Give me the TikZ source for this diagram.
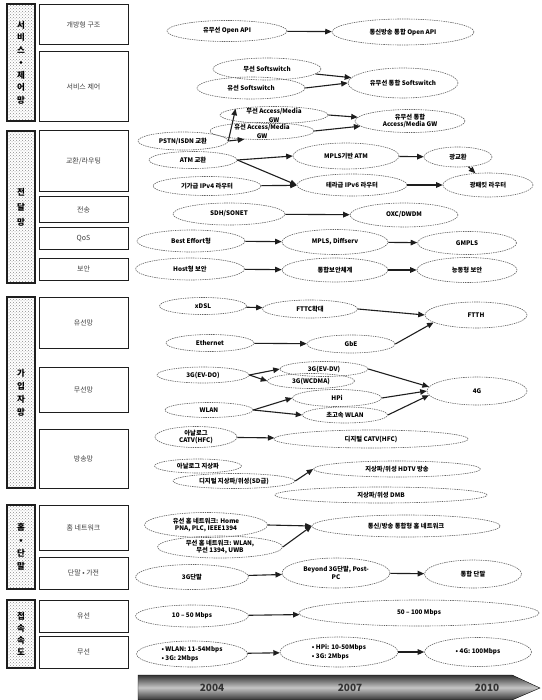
\documentclass[tikz,border=0pt]{standalone}
\usepackage{fontspec}
\setmainfont{Noto Sans CJK KR}
\usepackage{tikz}
\usetikzlibrary{shapes.geometric}
\usetikzlibrary{arrows.meta}
\usetikzlibrary{patterns}
\definecolor{kante}{RGB}{30,30,30}
\definecolor{raster}{RGB}{140,140,140}
\colorlet{kante-hell}{kante!70}
\colorlet{schrift}{black!75}

\begin{document}
\begin{tikzpicture}[x=1pt, y=-1pt,
    ell/.style={ellipse, draw=kante-hell, dash pattern=on 1.4pt off 0.9pt, line width=0.6pt, inner sep=0pt, align=center, font=\fontsize{6.3}{7.5}\selectfont\bfseries},
    oval/.style 2 args={ell, minimum width=#1, minimum height=#2},
    pf/.style={line width=1.1pt, kante, -{Triangle[length=6.5pt,width=5.5pt]}},
    kat/.style={draw=kante, line width=1.1pt, pattern=crosshatch dots, pattern color=raster, inner sep=0pt, align=center},
    feld/.style={draw=kante, line width=1pt, fill=white, minimum width=89, text=schrift, font=\fontsize{7}{8}\selectfont},
    jahr/.style={font=\fontsize{10}{10}\selectfont\bfseries, text=black!80}]

    \useasboundingbox (0,0) rectangle (541,700);

    % Kategorien links
    \node[kat, minimum width=28, minimum height=117, font=\fontsize{8.5}{12.5}\selectfont\bfseries] (k1) at (21,62.5) {서\\비\\스\\•\\제\\어\\망};
    \node[kat, minimum width=28, minimum height=152, font=\fontsize{8.5}{15}\selectfont\bfseries] (k2) at (21,207) {전\\달\\망};
    \node[kat, minimum width=28, minimum height=191, font=\fontsize{8.5}{13}\selectfont\bfseries] (k3) at (21,392.5) {가\\입\\자\\망};
    \node[kat, minimum width=28, minimum height=84, font=\fontsize{8.5}{13}\selectfont\bfseries] (k4) at (21,547) {홈\\•\\단\\말};
    \node[kat, minimum width=28, minimum height=68, font=\fontsize{8.5}{12}\selectfont\bfseries] (k5) at (21,634) {접\\속\\속\\도};

    \node[feld, minimum height=40] (b1) at (83.5,25) {개방형 구조};
    \node[feld, minimum height=70] (b2) at (83.5,87) {서비스 제어};
    \node[feld, minimum height=61] (b3) at (83.5,161.5) {교환/라우팅};
    \node[feld, minimum height=26] (b4) at (83.5,210) {전송};
    \node[feld, minimum height=22] (b5) at (83.5,239) {QoS};
    \node[feld, minimum height=22] (b6) at (83.5,269) {보안};
    \node[feld, minimum height=51] (b7) at (83.5,322.5) {유선망};
    \node[feld, minimum height=45] (b8) at (83.5,389.5) {무선망};
    \node[feld, minimum height=59] (b9) at (83.5,458.5) {방송망};
    \node[feld, minimum height=45] (b10) at (83.5,527.5) {홈 네트워크};
    \node[feld, minimum height=32] (b11) at (83.5,573) {단말 • 가전};
    \node[feld, minimum height=32] (b12) at (83.5,616) {유선};
    \node[feld, minimum height=32] (b13) at (83.5,652) {무선};

    % Dienste und Steuerung
    \node[oval={120}{21}] (api1) at (227,31) {유무선 Open API};
    \node[oval={142}{26}] (api2) at (403,32) {통신방송 통합 Open API};
    \node[oval={108}{22}] (wss) at (267,69) {무선 Softswitch};
    \node[oval={108}{22}] (lss) at (251,88) {유선 Softswitch};
    \node[oval={110}{30}] (uss) at (403,83) {유무선 통합 Softswitch};
    \draw[pf] (api1) -- (api2);
    \draw[pf] (wss) -- (uss);
    \draw[pf] (lss.east) -- (uss.west);

    % Transportnetz
    \node[oval={108}{17}, inner ysep=-3pt, font=\fontsize{6.3}{9}\selectfont\bfseries] (wgw) at (274,115) {무선 Access/Media\\GW};
    \node[oval={104}{17}, inner ysep=-3pt, font=\fontsize{6.3}{9}\selectfont\bfseries] (lgw) at (262,131) {유선 Access/Media\\GW};
    \node[oval={110}{23}] (ugw) at (410,121) {유무선 통합\\Access/Media GW};
    \node[oval={90}{18}] (pstn) at (183,141) {PSTN/ISDN 교환};
    \node[oval={88}{17}] (atm) at (193,160) {ATM 교환};
    \node[oval={106}{26}] (mpls) at (346,156) {MPLS기반 ATM};
    \node[oval={68}{20}] (oxs) at (458,157) {광교환};
    \node[oval={108}{19}] (giga) at (207,186) {기가급 IPv4 라우터};
    \node[oval={110}{22}] (tera) at (352,185) {테라급 IPv6 라우터};
    \node[oval={90}{24}] (opr) at (488,185) {광패킷 라우터};
    \draw[pf] (wgw.east) -- (ugw);
    \draw[pf] (lgw.east) -- (ugw);
    \draw[pf] (pstn.east) -- (wgw.north west);
    \draw[pf] (pstn.east) -- (lgw.205);
    \draw[pf] (atm.east) -- (mpls.west);
    \draw[pf] (atm.east) -- (tera.west);
    \draw[pf] (mpls) -- (oxs);
    \draw[pf] (oxs) -- (opr);
    \draw[pf] (giga) -- (tera);
    \draw[pf] (tera) -- (opr);

    \node[oval={112}{22}] (sdh) at (229,214) {SDH/SONET};
    \node[oval={108}{24}] (oxc) at (404,215) {OXC/DWDM};
    \draw[pf] (sdh) -- (oxc);
    \node[oval={108}{22}] (best) at (191,241) {Best Effort형};
    \node[oval={106}{25}] (diff) at (335,242) {MPLS, Diffserv};
    \node[oval={99}{23}] (gmpls) at (467,243) {GMPLS};
    \draw[pf] (best) -- (diff);
    \draw[pf] (diff) -- (gmpls);
    \node[oval={109}{22}] (host) at (190,269) {Host형 보안};
    \node[oval={106}{24}] (integ) at (335,270) {통합보안체계};
    \node[oval={100}{25}] (aktiv) at (467,270) {능동형 보안};
    \draw[pf] (host) -- (integ);
    \draw[pf] (integ) -- (aktiv);

    % Teilnehmernetz
    \node[oval={87}{17}] (xdsl) at (203,306) {xDSL};
    \node[oval={95}{18}] (fttc) at (310,309) {FTTC확대};
    \node[oval={102}{26}] (ftth) at (476,315) {FTTH};
    \node[oval={88}{17}] (eth) at (210,343) {Ethernet};
    \node[oval={88}{18}] (gbe) at (351,344) {GbE};
    \draw[pf] (xdsl) -- (fttc);
    \draw[pf] (fttc.east) -- (ftth.west);
    \draw[pf] (eth) -- (gbe);
    \draw[pf] (gbe.east) -- (ftth.190);

    \node[oval={92}{16}] (evdo) at (203,375) {3G(EV-DO)};
    \node[oval={88}{15}] (evdv) at (324,369) {3G(EV-DV)};
    \node[oval={87}{15}] (wcdma) at (311,381) {3G(WCDMA)};
    \node[oval={89}{17}] (hpi) at (337,398) {HPi};
    \node[oval={85}{16}] (hwlan) at (345,415) {초고속 WLAN};
    \node[oval={88}{15}] (wlan) at (209,410) {WLAN};
    \node[oval={100}{28}] (g4) at (477,391) {4G};
    \draw[pf] (evdo.east) -- (evdv.west);
    \draw[pf] (evdo.east) -- (wcdma.west);
    \draw[pf] (wlan.east) -- (hpi.west);
    \draw[pf] (wlan.east) -- (hwlan.west);
    \draw[pf] (evdv.east) -- (g4.175);
    \draw[pf] (hpi.east) -- (g4.west);
    \draw[pf] (hwlan.east) -- (g4.185);

    \node[oval={82}{21}, inner ysep=-1pt] (acatv) at (196,437) {아날로그\\CATV(HFC)};
    \node[oval={194}{18}] (dcatv) at (371,439) {디지털 CATV(HFC)};
    \node[oval={87}{14}] (ater) at (198,466) {아날로그 지상파};
    \node[oval={122}{15}] (dter) at (234,481) {디지털 지상파/위성(SD급)};
    \node[oval={167}{16}] (hdtv) at (397,469) {지상파/위성 HDTV 방송};
    \node[oval={212}{16}] (dmb) at (381,495) {지상파/위성 DMB};
    \draw[pf] (acatv) -- (dcatv);
    \draw[pf] (dter.east) -- (hdtv.west);

    % Heimnetz und Endgeraete
    \node[oval={123}{25}] (lhome) at (206,525) {유선 홈 네트워크: Home\\PNA, PLC, IEEE1394};
    \node[oval={125}{22}] (whome) at (220,547) {무선 홈 네트워크: WLAN,\\무선 1394, UWB};
    \node[oval={188}{22}] (chome) at (406,526) {통신/방송 통합형 홈 네트워크};
    \draw[pf] (lhome.east) -- (chome.west);
    \draw[pf] (whome.east) -- (chome.west);
    \node[oval={113}{25}] (t3g) at (192,577) {3G단말};
    \node[oval={108}{30}] (b3g) at (336,573) {Beyond 3G단말, Post-\\PC};
    \node[oval={97}{28}] (tterm) at (473,574) {통합 단말};
    \draw[pf] (t3g) -- (b3g);
    \draw[pf] (b3g) -- (tterm);

    % Zugangsgeschwindigkeit
    \node[oval={113}{22}] (s1) at (192,616) {10 – 50 Mbps};
    \node[oval={240}{26}] (s2) at (419,613) {50 – 100 Mbps};
    \draw[pf] (s1) -- (s2);
    \node[oval={111}{26}, align=left, font=\fontsize{6.3}{9.5}\selectfont\bfseries] (r1) at (192,654) {• WLAN: 11-54Mbps\\• 3G: 2Mbps};
    \node[oval={118}{30}, align=left, font=\fontsize{6.3}{9.5}\selectfont\bfseries] (r2) at (339,652) {• HPi: 10-50Mbps\\• 3G: 2Mbps};
    \node[oval={107}{29}] (r3) at (478,652) {• 4G: 100Mbps};
    \draw[pf] (r1) -- (r2);
    \draw[pf] (r2) -- (r3);

    % Zeitachse
    \shade[top color=black!80, bottom color=black!80, middle color=gray!45, draw=black] (138,675) -- (512,675) -- (540,688) -- (512,700) -- (138,700) -- cycle;
    \node[jahr] (j1) at (212,688) {2004};
    \node[jahr] (j2) at (350,688) {2007};
    \node[jahr] (j3) at (487,688) {2010};

\end{tikzpicture}
\end{document}
